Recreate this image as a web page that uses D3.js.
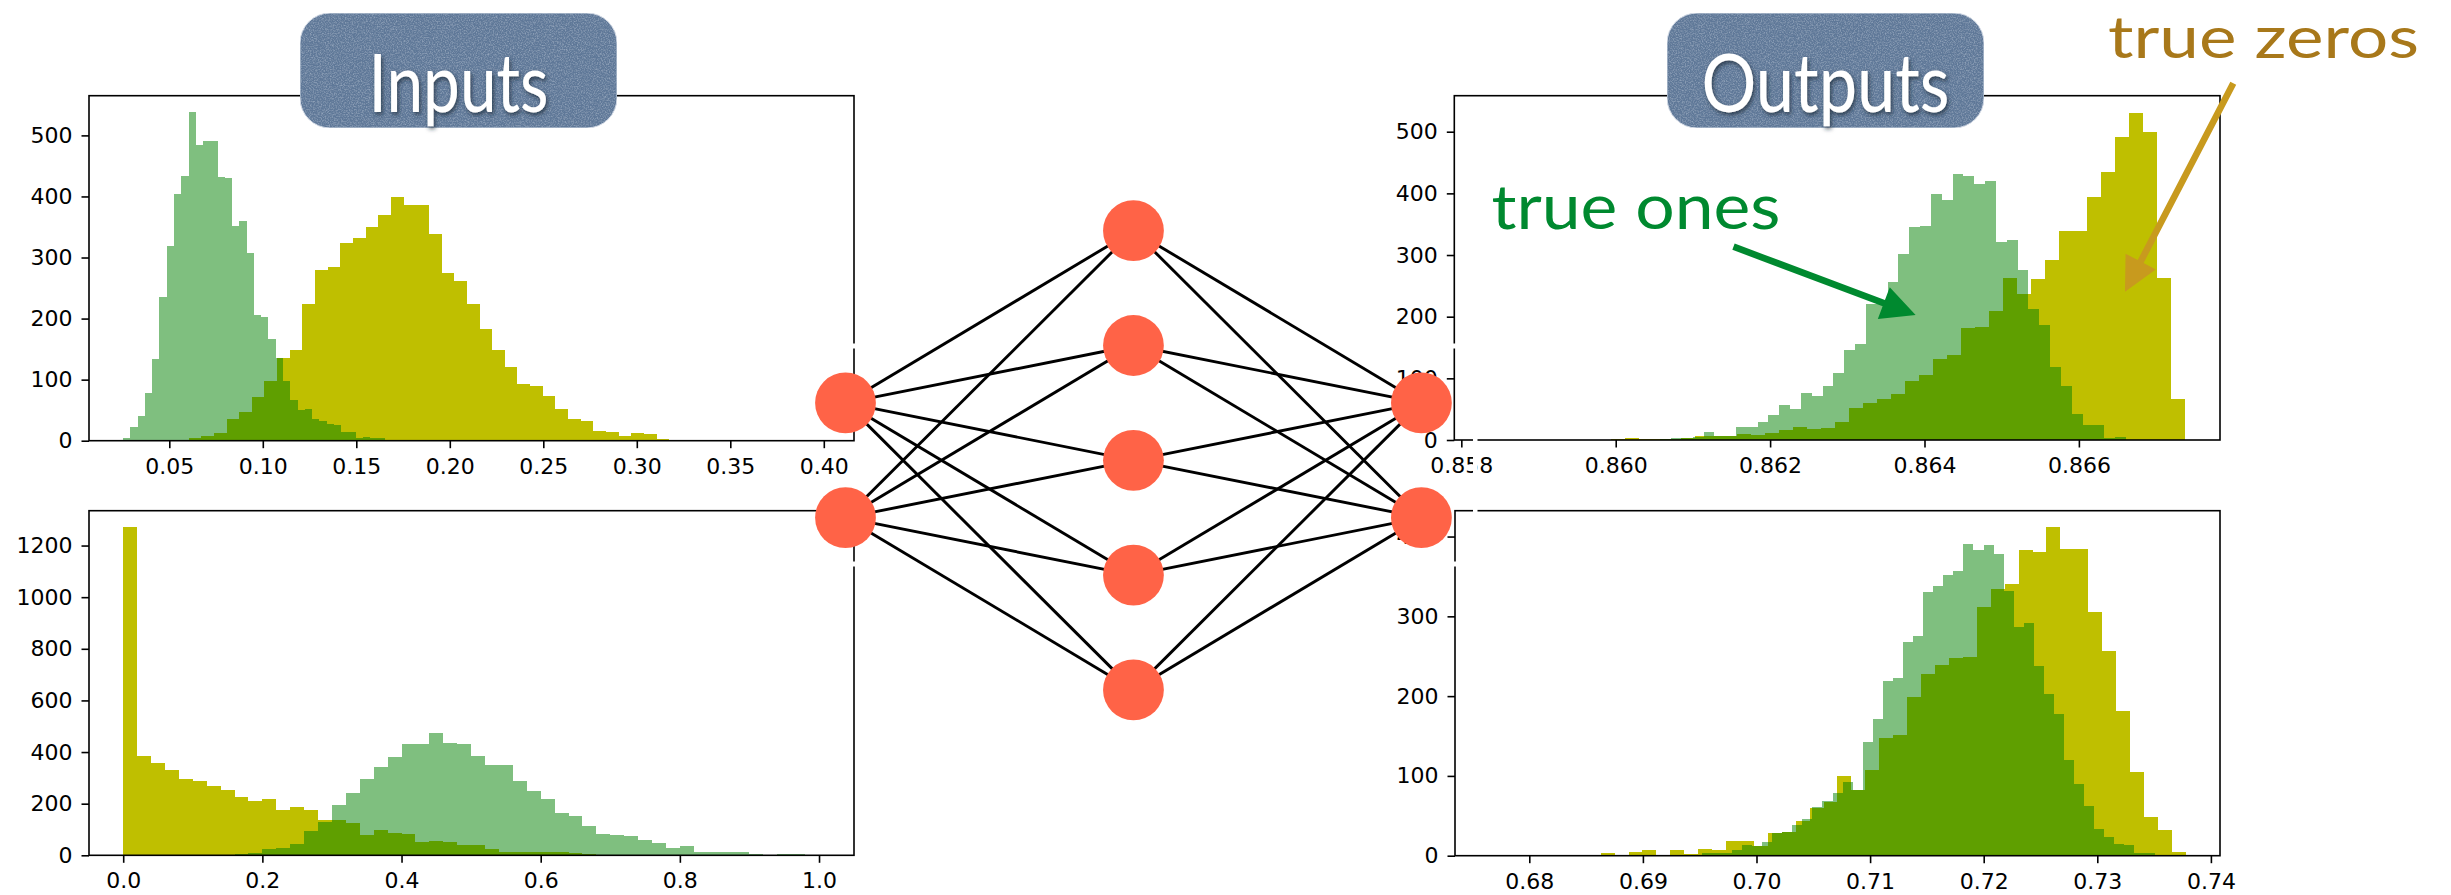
<!DOCTYPE html>
<html>
<head>
<meta charset="utf-8">
<script src="https://cdn.jsdelivr.net/npm/d3@7"></script>
<style>
  body { margin: 0; background: #fff; }
</style>
</head>
<body>
<div id="container"></div>
<script>
// ---- data ----

// input 1 (top left)
const in1YellowStart = 0.0603, in1YellowWidth = 0.006765;
const in1Yellow = [4, 8, 13, 35, 47, 72, 98, 135, 149, 224, 280, 284, 324, 332, 350, 369, 399, 386, 386, 339,
  274, 262, 224, 183, 148, 121, 93, 90, 73, 52, 36, 32, 16, 14, 7, 13, 11, 2, 0, 0, 0, 1, 1];
const in1GreenStart = 0.0253, in1GreenWidth = 0.003887;
const in1Green = [4, 22, 40, 78, 134, 235, 319, 404, 434, 539, 485, 490, 491, 432, 431, 352, 360, 308, 206, 203,
  167, 135, 97, 66, 50, 52, 35, 33, 28, 25, 14, 14, 4, 6, 5, 5, 1, 1];
const in1XTicks = [0.05, 0.10, 0.15, 0.20, 0.25, 0.30, 0.35, 0.40];
const in1YTicks = [0, 100, 200, 300, 400, 500];

// input 2 (bottom left)
const in2YellowStart = 0.0, in2YellowWidth = 0.02;
const in2Yellow = [1271, 385, 358, 331, 296, 288, 269, 253, 227, 211, 218, 176, 187, 176, 137, 137, 125, 79, 98, 87,
  83, 51, 54, 51, 40, 40, 23, 13, 13, 13, 13, 12, 8, 5, 3, 3, 2, 2, 2, 1, 1];
const in2GreenStart = 0.16, in2GreenWidth = 0.02;
const in2Green = [4, 10, 23, 28, 44, 94, 129, 193, 242, 297, 344, 379, 432, 432, 474, 435, 430, 385, 350, 350,
  288, 249, 218, 164, 152, 114, 83, 79, 75, 59, 48, 28, 36, 13, 13, 13, 13, 4, 0, 4, 4];
const in2XTicks = [0.0, 0.2, 0.4, 0.6, 0.8, 1.0];
const in2YTicks = [0, 200, 400, 600, 800, 1000, 1200];

// output 1 (top right)
const out1YellowStart = 0.859939, out1YellowWidth = 0.0001813;
const out1Yellow = [2, 3, 2, 1, 2, 3, 7, 6, 6, 9, 8, 12, 16, 21, 18, 20, 30, 52, 60, 66,
  75, 95, 105, 132, 138, 182, 184, 210, 263, 236, 261, 292, 339, 339, 394, 435, 492, 530, 499, 263, 66];
const out1GreenStart = 0.860576, out1GreenWidth = 0.0001403;
const out1Green = [2, 3, 4, 5, 13, 6, 6, 21, 21, 30, 40, 56, 50, 76, 71, 87, 109, 146, 156, 220,
  220, 257, 302, 346, 347, 399, 389, 431, 428, 415, 420, 321, 324, 276, 212, 187, 118, 87, 42, 24, 24, 4, 5];
const out1XTicks = [0.858, 0.860, 0.862, 0.864, 0.866];
const out1YTicks = [0, 100, 200, 300, 400, 500];

// output 2 (bottom right)
const out2YellowStart = 0.686285, out2YellowWidth = 0.0012262;
const out2Yellow = [3, 0, 5, 7, 1, 7, 2, 9, 7, 18, 19, 12, 29, 30, 44, 60, 67, 100, 82, 107,
  148, 151, 199, 228, 239, 248, 249, 312, 334, 340, 383, 381, 412, 385, 384, 305, 257, 181, 105, 49, 32, 5];
const out2GreenStart = 0.695176, out2GreenWidth = 0.000886;
const out2Green = [4, 4, 4, 7, 14, 12, 17, 28, 30, 39, 46, 61, 68, 79, 92, 82, 143, 171, 219, 223,
  268, 275, 331, 338, 352, 357, 391, 383, 390, 378, 332, 287, 292, 238, 203, 178, 120, 90, 62, 34,
  24, 15, 14, 4, 3];
const out2XTicks = [0.68, 0.69, 0.70, 0.71, 0.72, 0.73, 0.74];
const out2YTicks = [0, 100, 200, 300, 400];

// network: neurons per layer
const layers = [2, 5, 2];

// annotations, in data units of the top right panel
const onesText = "true ones", onesAt = [0.858390, 343];
const onesArrow = [[0.861526, 313.5], [0.863885, 202.7]];
const zerosText = "true zeros", zerosAt = [0.866377, 620];
const zerosArrow = [[0.868000, 578.5], [0.866597, 240.5]];

// ---- drawing ----
const svg = d3.select("#container")
  .append("svg")
    .attr("width", 2451)
    .attr("height", 895);

const defs = svg.append("defs");

// paper-like grain for the title boxes
const grain = defs.append("filter").attr("id", "grain")
  .attr("x", 0).attr("y", 0).attr("width", 1).attr("height", 1);
grain.append("feTurbulence")
  .attr("type", "fractalNoise").attr("baseFrequency", 0.75).attr("numOctaves", 2).attr("seed", 7)
  .attr("result", "noise");
grain.append("feColorMatrix").attr("in", "noise").attr("type", "matrix")
  .attr("values", "0 0 0 0 0.55  0 0 0 0 0.65  0 0 0 0 0.78  0.9 0 0 0 -0.38")
  .attr("result", "tint");
grain.append("feComposite").attr("in", "tint").attr("in2", "SourceGraphic")
  .attr("operator", "in").attr("result", "tintIn");
const gm = grain.append("feMerge");
gm.append("feMergeNode").attr("in", "SourceGraphic");
gm.append("feMergeNode").attr("in", "tintIn");

const shadow = defs.append("filter").attr("id", "shadow")
  .attr("x", "-10%").attr("y", "-10%").attr("width", "120%").attr("height", "130%");
shadow.append("feDropShadow")
  .attr("dx", 1.5).attr("dy", 2.5).attr("stdDeviation", 2)
  .attr("flood-color", "#1d2638").attr("flood-opacity", 0.75);

function drawPanel(p) {
  const x = d3.scaleLinear().domain(p.xDomain).range([p.left, p.right]);
  const y = d3.scaleLinear().domain(p.yDomain).range([p.bottom, p.top]);
  const g = svg.append("g");

  // one histogram; bin edges rounded so neighbouring bars don't overlap
  function bars(counts, start, width, fill, opacity) {
    g.append("g")
      .selectAll("rect")
      .data(counts)
      .join("rect")
        .attr("x", (d, i) => Math.round(x(start + i * width)))
        .attr("width", (d, i) => Math.round(x(start + (i + 1) * width)) - Math.round(x(start + i * width)))
        .attr("y", d => y(d))
        .attr("height", d => y(0) - y(d))
        .attr("fill", fill)
        .attr("fill-opacity", opacity)
        .attr("shape-rendering", "crispEdges");
  }
  bars(p.yellow, p.yellowStart, p.yellowWidth, "#bfbf00", 1);
  bars(p.green, p.greenStart, p.greenWidth, "#008000", 0.5);

  // axes
  const ax = g.append("g")
    .attr("transform", `translate(0,${p.bottom})`)
    .call(d3.axisBottom(x)
      .tickValues(p.xTicks)
      .tickFormat(d3.format(p.xFmt))
      .tickSize(7.5).tickSizeOuter(0).tickPadding(10));
  const ay = g.append("g")
    .attr("transform", `translate(${p.left},0)`)
    .call(d3.axisLeft(y)
      .tickValues(p.yTicks)
      .tickFormat(d3.format("d"))
      .tickSize(7.5).tickSizeOuter(0).tickPadding(9));
  [ax, ay].forEach(a => {
    a.select(".domain").remove();
    a.attr("font-family", "DejaVu Sans").attr("font-size", 22);
    a.selectAll("line").attr("stroke-width", 1.6);
    a.selectAll("text").attr("fill", "#000");
  });

  // spines
  g.append("rect")
    .attr("x", p.left).attr("y", p.top)
    .attr("width", p.right - p.left).attr("height", p.bottom - p.top)
    .attr("fill", "none")
    .attr("stroke", "#000")
    .attr("stroke-width", 1.6);

  return {x, y};
}

drawPanel({left: 89, right: 854, top: 95.7, bottom: 440.7,
  xDomain: [0.00706, 0.41615], yDomain: [0, 565],
  yellow: in1Yellow, yellowStart: in1YellowStart, yellowWidth: in1YellowWidth,
  green: in1Green, greenStart: in1GreenStart, greenWidth: in1GreenWidth,
  xTicks: in1XTicks, yTicks: in1YTicks, xFmt: ".2f"});

drawPanel({left: 89, right: 854, top: 510.7, bottom: 855.3,
  xDomain: [-0.04916, 1.05026], yDomain: [0, 1335],
  yellow: in2Yellow, yellowStart: in2YellowStart, yellowWidth: in2YellowWidth,
  green: in2Green, greenStart: in2GreenStart, greenWidth: in2GreenWidth,
  xTicks: in2XTicks, yTicks: in2YTicks, xFmt: ".1f"});

const top1 = drawPanel({left: 1454.3, right: 2220, top: 95.7, bottom: 440,
  xDomain: [0.857909, 0.867828], yDomain: [0, 558.4],
  yellow: out1Yellow, yellowStart: out1YellowStart, yellowWidth: out1YellowWidth,
  green: out1Green, greenStart: out1GreenStart, greenWidth: out1GreenWidth,
  xTicks: out1XTicks, yTicks: out1YTicks, xFmt: ".3f"});

drawPanel({left: 1455, right: 2220, top: 510.7, bottom: 855.7,
  xDomain: [0.673460, 0.740801], yDomain: [0, 432.4],
  yellow: out2Yellow, yellowStart: out2YellowStart, yellowWidth: out2YellowWidth,
  green: out2Green, greenStart: out2GreenStart, greenWidth: out2GreenWidth,
  xTicks: out2XTicks, yTicks: out2YTicks, xFmt: ".2f"});

// little white breaks where the network picture was pasted over the axes
const breaks = svg.append("g").attr("fill", "#fff");
[[851.5, 343.5, 5, 5], [851.5, 561.5, 5, 5], [1452, 343.5, 5, 5], [1452, 561.5, 5, 5],
 [1473, 434, 4.5, 83]].forEach(b => {
  breaks.append("rect").attr("x", b[0]).attr("y", b[1]).attr("width", b[2]).attr("height", b[3]);
});

// ---- network ----
const layerX = d3.scaleLinear().domain([0, layers.length - 1]).range([845.5, 1421.4]);
const nodeGap = 114.8, netMid = 460.3;
const nodes = layers.map((n, l) => d3.range(n).map(i => ({
  x: layerX(l),
  y: netMid + (i - (n - 1) / 2) * nodeGap
})));

const links = [];
for (let l = 0; l < nodes.length - 1; l++) {
  nodes[l].forEach(a => nodes[l + 1].forEach(b => links.push([a, b])));
}

svg.append("g")
  .selectAll("line")
  .data(links)
  .join("line")
    .attr("x1", d => d[0].x).attr("y1", d => d[0].y)
    .attr("x2", d => d[1].x).attr("y2", d => d[1].y)
    .attr("stroke", "#000")
    .attr("stroke-width", 2.9);

svg.append("g")
  .selectAll("circle")
  .data(nodes.flat())
  .join("circle")
    .attr("cx", d => d.x).attr("cy", d => d.y)
    .attr("r", 30.4)
    .attr("fill", "#ff6347");

// ---- title boxes ----
function titleBox(label, x0, width, textLen) {
  const g = svg.append("g");
  g.append("rect")
    .attr("x", x0).attr("y", 13)
    .attr("width", width).attr("height", 115)
    .attr("rx", 30).attr("ry", 30)
    .attr("fill", "#5f7898")
    .attr("stroke", "#d6dce6").attr("stroke-width", 1)
    .attr("filter", "url(#grain)");
  g.append("text")
    .attr("x", x0 + width / 2).attr("y", 111.5)
    .attr("text-anchor", "middle")
    .attr("font-family", "Lato, 'Open Sans', sans-serif")
    .attr("font-size", 82)
    .attr("textLength", textLen)
    .attr("lengthAdjust", "spacingAndGlyphs")
    .attr("fill", "#fff")
    .attr("filter", "url(#shadow)")
    .text(label);
}
titleBox("Inputs", 300, 317, 180);
titleBox("Outputs", 1667, 317, 248);

// ---- annotations ----
function arrow(from, to, color, sx, sy) {
  const x1 = sx(from[0]), y1 = sy(from[1]), x2 = sx(to[0]), y2 = sy(to[1]);
  const len = Math.hypot(x2 - x1, y2 - y1);
  const ux = (x2 - x1) / len, uy = (y2 - y1) / len, nx = -uy, ny = ux;
  const hw = 3.3, hl = 34, hh = 17;
  const bx = x2 - ux * hl, by = y2 - uy * hl;
  const pts = [
    [x1 + nx * hw, y1 + ny * hw], [bx + nx * hw, by + ny * hw], [bx + nx * hh, by + ny * hh],
    [x2, y2],
    [bx - nx * hh, by - ny * hh], [bx - nx * hw, by - ny * hw], [x1 - nx * hw, y1 - ny * hw]
  ];
  svg.append("path")
    .attr("d", d3.line()(pts) + "Z")
    .attr("fill", color);
}

svg.append("text")
  .attr("x", top1.x(onesAt[0])).attr("y", top1.y(onesAt[1]))
  .attr("font-family", "Lato, 'Open Sans', sans-serif")
  .attr("font-size", 62)
  .attr("textLength", 289)
  .attr("lengthAdjust", "spacingAndGlyphs")
  .attr("fill", "#00892f")
  .text(onesText);
arrow(onesArrow[0], onesArrow[1], "#00892f", top1.x, top1.y);

svg.append("text")
  .attr("x", top1.x(zerosAt[0])).attr("y", top1.y(zerosAt[1]))
  .attr("font-family", "Lato, 'Open Sans', sans-serif")
  .attr("font-size", 59)
  .attr("textLength", 311)
  .attr("lengthAdjust", "spacingAndGlyphs")
  .attr("fill", "#a8781a")
  .text(zerosText);
arrow(zerosArrow[0], zerosArrow[1], "#c89a1e", top1.x, top1.y);
</script>
</body>
</html>
